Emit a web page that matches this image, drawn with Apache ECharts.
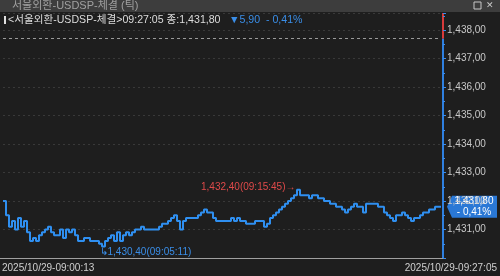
<!DOCTYPE html>
<html><head><meta charset="utf-8">
<script src="https://cdn.jsdelivr.net/npm/echarts@6/dist/echarts.min.js"></script>
<style>html,body{margin:0;padding:0;background:#1e1e1e;overflow:hidden}#c{width:500px;height:276px}</style>
</head><body><div id="c"></div><script>
// ---- data ----
const prices = [
1432.0,1431.5,1431.1,1431.3,1431.0,1431.4,1431.1,1431.3,1430.9,1430.6,
1430.7,1430.6,1430.8,1430.9,1431.0,1431.1,1430.9,1430.8,1430.8,1431.0,
1430.7,1431.0,1430.9,1431.0,1430.8,1430.6,1430.6,1430.7,1430.7,1430.6,
1430.6,1430.6,1430.5,1430.4,1430.6,1430.7,1430.8,1430.6,1430.9,1430.6,
1430.8,1430.9,1430.8,1430.9,1431.0,1431.0,1431.1,1431.0,1431.0,1431.0,
1431.0,1431.0,1431.1,1431.2,1431.2,1431.3,1431.4,1431.5,1431.3,1431.0,
1431.3,1431.4,1431.4,1431.4,1431.4,1431.5,1431.6,1431.7,1431.6,1431.6,
1431.4,1431.3,1431.3,1431.3,1431.3,1431.3,1431.4,1431.3,1431.4,1431.3,
1431.3,1431.2,1431.2,1431.2,1431.3,1431.3,1431.3,1431.1,1431.2,1431.4,
1431.5,1431.6,1431.7,1431.8,1431.9,1432.0,1432.1,1432.2,1432.4,1432.2,
1432.2,1432.2,1432.1,1432.2,1432.2,1432.1,1432.1,1432.0,1432.0,1431.9,
1431.9,1431.8,1431.8,1431.7,1431.6,1431.7,1431.8,1431.9,1431.8,1431.8,
1431.6,1431.9,1431.9,1431.9,1431.9,1431.8,1431.8,1431.6,1431.5,1431.4,
1431.3,1431.5,1431.5,1431.6,1431.5,1431.4,1431.3,1431.4,1431.4,1431.5,
1431.6,1431.6,1431.7,1431.7,1431.8,1431.8,1431.8
];
const prevClose = 1437.70;
const lastPrice = 1431.80;
const lastPctText = '- 0,41%';
const peakText = '1,432,40(09:15:45)→';
const lowText = '↳1,430,40(09:05:11)';
const startTimeText = '2025/10/29-09:00:13';
const endTimeText = '2025/10/29-09:27:05';
const windowTitle = '서울외환-USDSP-체결 (틱)';
const headerText = '<서울외환-USDSP-체결>09:27:05 종:1,431,80';
const changeText = '▼5,90  - 0,41%';
const yMin = 1430, yMax = 1438.6, yStep = 1;

function fmt(v){
  const s = v.toFixed(2); const p = s.split('.');
  return p[0].replace(/\B(?=(\d{3})+(?!\d))/g, ',') + ',' + p[1];
}

const FONT = "'Liberation Sans','Noto Sans CJK KR',sans-serif";
const BLUE = '#2f8ff0', RED = '#e04a4a';
const chart = echarts.init(document.getElementById('c'), null, {renderer:'canvas'});
chart.setOption({
  backgroundColor:'#1e1e1e',
  animation:false,
  grid:{left:3, right:59, top:13, bottom:18},
  xAxis:{type:'category', boundaryGap:false, data: prices.map((_,i)=>i), show:false},
  yAxis:{type:'value', position:'right', offset:2, min:yMin, max:yMax, interval:yStep,
    axisLine:{show:false},
    axisTick:{show:true, length:3, lineStyle:{color:'#3a8ef0'}},
    minorTick:{show:true, splitNumber:2, length:2, lineStyle:{color:'#3a8ef0'}},
    axisLabel:{color:'#c8c8c8', fontSize:10, fontFamily:FONT, margin:4, showMinLabel:false, showMaxLabel:false,
      formatter:v => (Math.abs(v-Math.round(v))<1e-6 ? fmt(v) : '')},
    splitLine:{show:true, lineStyle:{color:'#393939', type:[2,3], width:1}}
  },
  series:[{
    type:'line', data:prices, symbol:'none', step:'end',
    lineStyle:{color:BLUE, width:2}, z:3,
    markLine:{silent:true, symbol:['none','none'], label:{show:false},
      lineStyle:{color:'#9a9a9a', type:[3,3], width:1},
      data:[{yAxis:prevClose}]},
    markPoint:{silent:true, symbol:'circle', symbolSize:1, itemStyle:{color:'rgba(0,0,0,0)'},
      data:[
        {type:'max', label:{show:true, formatter:peakText, position:'left', distance:1,
          color:RED, fontSize:10, fontFamily:FONT, offset:[0,-2]}},
        {type:'min', label:{show:true, formatter:lowText, position:'right', distance:0,
          color:'#3a8ee8', fontSize:10, fontFamily:FONT, offset:[-3,6]}}
      ]}
  }]
});

const yPrev = chart.convertToPixel({yAxisIndex:0}, prevClose);
const yLast = chart.convertToPixel({yAxisIndex:0}, lastPrice);
const yTop = chart.convertToPixel({yAxisIndex:0}, yMax);
const yBot = chart.convertToPixel({yAxisIndex:0}, yMin);
const ax = 443;
chart.setOption({graphic:[
  {type:'rect', shape:{x:0,y:0,width:500,height:12}, style:{fill:'#3d3d3d'}},
  {type:'text', x:12, y:6, style:{text:windowTitle, fill:'#a0a0a0', font:"11px "+FONT, verticalAlign:'middle'}},
  {type:'rect', shape:{x:474,y:2,width:7,height:7}, style:{fill:'none', stroke:'#c8c8c8', lineWidth:1}},
  {type:'text', x:490, y:6, style:{text:'✕', fill:'#c8c8c8', font:"9px "+FONT, align:'center', verticalAlign:'middle'}},
  {type:'rect', shape:{x:4,y:16,width:2,height:8}, style:{fill:'#e0e0e0'}},
  {type:'text', x:8, y:20, style:{text:headerText, fill:'#dcdcdc', font:"10.6px "+FONT, verticalAlign:'middle'}},
  {type:'text', x:229, y:20, style:{text:changeText, fill:'#3a8ee8', font:"10.6px "+FONT, verticalAlign:'middle'}},
  {type:'line', shape:{x1:ax,y1:yTop,x2:ax,y2:yPrev}, style:{stroke:'#d83a3a', lineWidth:2}},
  {type:'line', shape:{x1:ax,y1:yPrev,x2:ax,y2:yBot}, style:{stroke:'#2f80e0', lineWidth:2}},
  {type:'line', shape:{x1:0,y1:yBot+0.5,x2:ax,y2:yBot+0.5}, style:{stroke:'#a0a0a0', lineWidth:1}},
  {type:'polygon', shape:{points:[[447,yLast],[452,yLast-11],[497,yLast-11],[497,yLast+11],[452,yLast+11]]}, style:{fill:'#2a78d6'}},
  {type:'text', x:474, y:yLast-5, style:{text:fmt(lastPrice), fill:'#ffffff', font:"10px "+FONT, align:'center', verticalAlign:'middle'}},
  {type:'text', x:474, y:yLast+6, style:{text:lastPctText, fill:'#ffffff', font:"10px "+FONT, align:'center', verticalAlign:'middle'}},
  {type:'text', x:2, y:268, style:{text:startTimeText, fill:'#d0d0d0', font:"10px "+FONT, verticalAlign:'middle'}},
  {type:'text', x:497, y:268, style:{text:endTimeText, fill:'#d0d0d0', font:"10px "+FONT, align:'right', verticalAlign:'middle'}}
]});
</script></body></html>
